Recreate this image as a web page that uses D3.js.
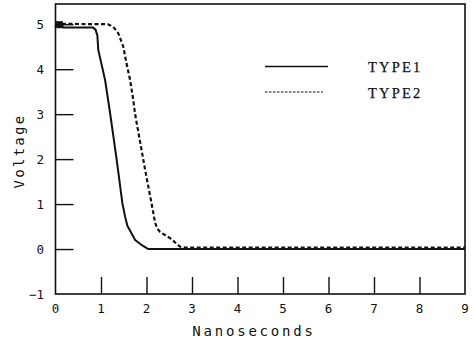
<!DOCTYPE html>
<html>
<head>
<meta charset="utf-8">
<script src="https://cdn.jsdelivr.net/npm/d3@7/dist/d3.min.js"></script>
<style>
  html, body { margin: 0; padding: 0; background: #fff; }
  svg { display: block; }
  .tick-label { font-family: "DejaVu Sans Mono", monospace; font-size: 12.5px; fill: #111; }
  .axis-title { font-family: "DejaVu Sans Mono", monospace; font-size: 14px; fill: #111; }
  .legend-text { font-family: "Liberation Serif", "DejaVu Serif", serif; font-size: 14.5px; fill: #111; stroke: #111; stroke-width: 0.25px; letter-spacing: 2.2px; }
</style>
</head>
<body>
<script>
// Pulse fall waveforms: time (ns) vs voltage (V)
const seriesNames = ["TYPE1", "TYPE2"];

const type1Time = [0, 0.02, 0.04, 0.06, 0.08, 0.10, 0.12, 0.14, 0.16, 0.82, 0.88, 0.92, 0.94, 1.09, 1.2, 1.34, 1.47, 1.53, 1.58, 1.67, 1.75, 1.88, 2.04, 9];
const type1Volt = [4.93, 5.05, 4.93, 5.05, 4.93, 5.05, 4.93, 5.05, 4.93, 4.93, 4.88, 4.75, 4.43, 3.76, 3.02, 2.02, 1.02, 0.72, 0.52, 0.35, 0.2, 0.1, 0, 0];

const type2Time = [0, 1.15, 1.27, 1.38, 1.49, 1.56, 1.64, 1.71, 1.75, 1.97, 2.11, 2.19, 2.24, 2.3, 2.52, 2.74, 2.85, 9];
const type2Volt = [5.01, 5.0, 4.94, 4.8, 4.5, 4.13, 3.76, 3.31, 3.0, 1.76, 1.02, 0.58, 0.45, 0.38, 0.24, 0.05, 0.03, 0.03];

const xTicks = [0, 1, 2, 3, 4, 5, 6, 7, 8, 9];
const yTicks = [-1, 0, 1, 2, 3, 4, 5];

const W = 473, H = 342;
const svg = d3.select("body").append("svg").attr("width", W).attr("height", H);

const x = d3.scaleLinear().domain([0, 9]).range([55.5, 465]);
const y = d3.scaleLinear().domain([-1, 5.45]).range([294, 4]);

const ink = "#111";

// Frame
svg.append("rect")
  .attr("x", x(0)).attr("y", y(5.45))
  .attr("width", x(9) - x(0)).attr("height", y(-1) - y(5.45))
  .attr("fill", "none").attr("stroke", ink).attr("stroke-width", 1.6);

// Inward ticks on the bottom edge
const xAxis = d3.axisTop(x).tickValues(xTicks.filter(d => d > 0 && d < 9)).tickSize(17).tickFormat("");
svg.append("g").attr("transform", `translate(0,${y(-1)})`).call(xAxis)
  .call(g => g.select(".domain").remove())
  .call(g => g.selectAll("line").attr("stroke", ink).attr("stroke-width", 1.4));

// Inward ticks on the left edge
const yAxis = d3.axisRight(y).tickValues(yTicks.filter(d => d > -1)).tickSize(18).tickFormat("");
svg.append("g").attr("transform", `translate(${x(0)},0)`).call(yAxis)
  .call(g => g.select(".domain").remove())
  .call(g => g.selectAll("line").attr("stroke", ink).attr("stroke-width", 1.4));

// Tick labels
svg.append("g").selectAll("text").data(xTicks).join("text")
  .attr("class", "tick-label")
  .attr("x", d => x(d)).attr("y", 313)
  .attr("text-anchor", "middle")
  .text(d => d);

svg.append("g").selectAll("text").data(yTicks).join("text")
  .attr("class", "tick-label")
  .attr("x", 44).attr("y", d => y(d) + 4.5)
  .attr("text-anchor", "end")
  .text(d => d < 0 ? "\u2212" + Math.abs(d) : d);

// Axis titles
svg.append("text").attr("class", "axis-title")
  .attr("x", 254).attr("y", 336)
  .attr("text-anchor", "middle")
  .style("letter-spacing", "2.8px")
  .text("Nanoseconds");

svg.append("text").attr("class", "axis-title")
  .attr("transform", "translate(24,151) rotate(-90)")
  .attr("text-anchor", "middle")
  .style("letter-spacing", "2.3px")
  .text("Voltage");

// Waveforms
const line = d3.line().x(d => x(d[0])).y(d => y(d[1]));
const type1 = type1Time.map((t, i) => [t, type1Volt[i]]);
const type2 = type2Time.map((t, i) => [t, type2Volt[i]]);

svg.append("path").datum(type2)
  .attr("d", line)
  .attr("fill", "none").attr("stroke", ink)
  .attr("stroke-width", 2.2)
  .attr("stroke-dasharray", "4,2.5");

svg.append("path").datum(type1)
  .attr("d", line)
  .attr("fill", "none").attr("stroke", ink)
  .attr("stroke-width", 2)
  .attr("stroke-linejoin", "round");

// Legend
const legend = svg.append("g");
legend.append("line")
  .attr("x1", 265).attr("x2", 328).attr("y1", 66.5).attr("y2", 66.5)
  .attr("stroke", ink).attr("stroke-width", 1.5);
legend.append("text").attr("class", "legend-text")
  .attr("x", 368).attr("y", 71.5).text(seriesNames[0]);

legend.append("line")
  .attr("x1", 265).attr("x2", 323).attr("y1", 92).attr("y2", 92)
  .attr("stroke", ink).attr("stroke-width", 1.2)
  .attr("stroke-dasharray", "2.5,1.5");
legend.append("text").attr("class", "legend-text")
  .attr("x", 368).attr("y", 98).text(seriesNames[1]);
</script>
</body>
</html>
